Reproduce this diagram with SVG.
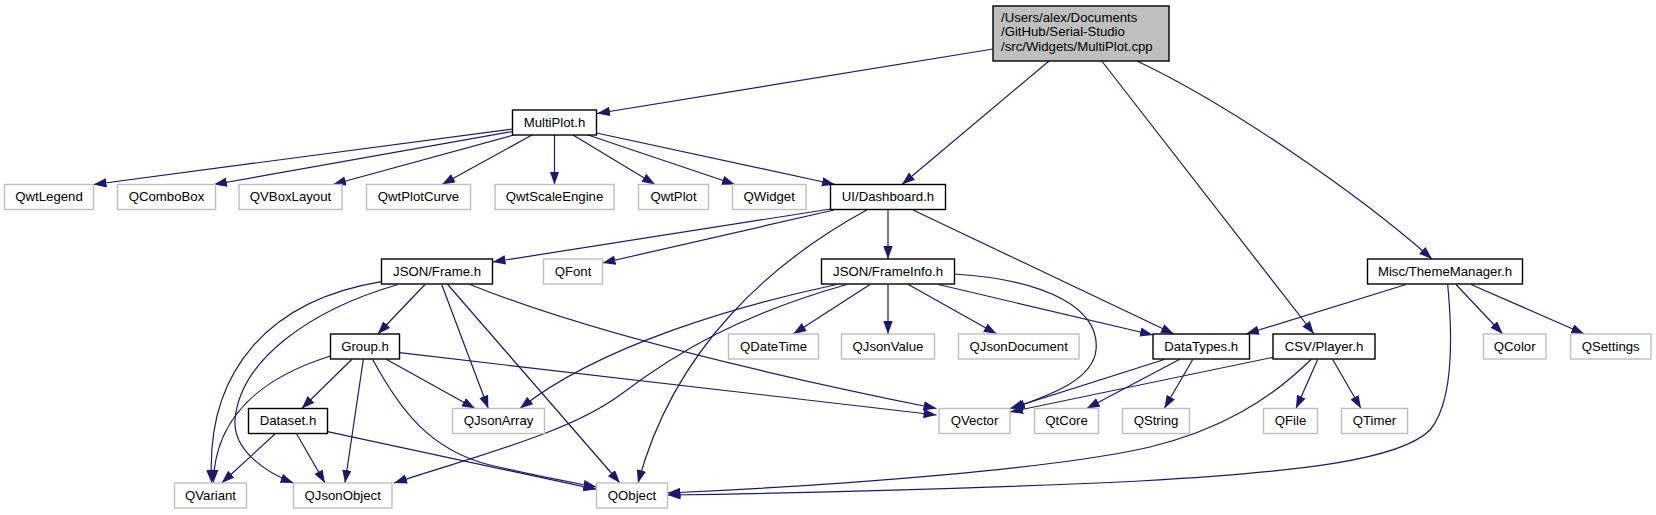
<svg xmlns="http://www.w3.org/2000/svg" width="1656" height="515" viewBox="0 0 1656 515">
<defs>
<marker id="ah" markerUnits="userSpaceOnUse" markerWidth="14" markerHeight="10" refX="13" refY="4.7" orient="auto">
<path d="M0,0 L13,4.7 L0,9.4 z" fill="#191970"/>
</marker>
<style>
.n rect{fill:#fff;stroke:#000;stroke-width:1.4}
.g rect{fill:#fff;stroke:#bfbfbf;stroke-width:1.4}
.r rect{fill:#bfbfbf;stroke:#000;stroke-width:1.4}
text{font-family:"Liberation Sans",Arial,Helvetica,sans-serif;font-size:13.2px;fill:#000;text-anchor:middle}
.r text{text-anchor:start}
#edges path{fill:none;stroke:#191970;stroke-width:1.2;marker-end:url(#ah)}
</style>
</defs>
<rect width="1656" height="515" fill="#fff"/>
<g id="edges">
<path d="M993,49 L597,113.5"/>
<path d="M1049,61 L902,184.5"/>
<path d="M1101.7,61 L1314,334"/>
<path d="M1137,61 C1230,105 1360,195 1432,259"/>
<path d="M512.5,129 L93.5,184.5"/>
<path d="M512.5,131.5 L214,184.5"/>
<path d="M514,135 L333,184.5"/>
<path d="M532,135 L442,184.5"/>
<path d="M554.5,135 L554.5,184.5"/>
<path d="M573,135 L655,184.5"/>
<path d="M588,135 L735,184.5"/>
<path d="M596.5,133 L835,184.5"/>
<path d="M830.5,209 L492.5,262"/>
<path d="M834,210 L602.5,263"/>
<path d="M888,210 L888,259"/>
<path d="M913,210 L1174,334"/>
<path d="M866.7,210 C775,260 675,345 638,483"/>
<path d="M381.5,281.7 C270,300 205,370 211.7,483"/>
<path d="M398,284.5 C310,310 240,360 235,420 C233,450 265,472 293.5,483"/>
<path d="M425,284.5 L377.7,334"/>
<path d="M441.7,284.5 L488.3,408.5"/>
<path d="M447.7,284.5 L620,483"/>
<path d="M470,284.5 Q620,345 936.5,408.5"/>
<path d="M351.7,359.5 L301.7,408.5"/>
<path d="M330.5,356 C270,375 215,410 213.3,483"/>
<path d="M363.3,359.5 L345,483"/>
<path d="M372.7,359.5 C400,410 430,450 490,465 C540,477 570,482 596.5,487"/>
<path d="M386.7,359.5 L475,408.5"/>
<path d="M399.5,352.7 L936.5,415"/>
<path d="M275,434 L221.7,483"/>
<path d="M296.7,434 L325,483"/>
<path d="M327.5,431.7 L596.5,489.3"/>
<path d="M836.7,284.5 C740,305 600,345 520,408.5"/>
<path d="M846.7,284.5 C740,315 680,350 620,395 C570,432 480,455 394,483"/>
<path d="M870,284.5 L793.3,334"/>
<path d="M888,284.5 L888,334"/>
<path d="M908.3,284.5 L996.7,334"/>
<path d="M938.3,284.5 L1153,335"/>
<path d="M954.5,274 C1050,280 1100,310 1096,350 C1093,380 1050,395 1012,408.5"/>
<path d="M1164.3,359.5 L1010,408.5"/>
<path d="M1179.3,359.5 L1086.7,408.5"/>
<path d="M1192.7,359.5 L1164.3,408.5"/>
<path d="M1273,357.3 L1010,412"/>
<path d="M1311,359.5 C1270,400 1220,430 1150,447 C1060,468 850,485 667.5,493"/>
<path d="M1317.7,359.5 L1296,408.5"/>
<path d="M1332.7,359.5 L1361,408.5"/>
<path d="M1406,284.5 L1246,334"/>
<path d="M1447.7,284.5 C1452,330 1455,400 1430,430 C1400,460 1300,472 1140,481 C950,490 800,493 667.5,495"/>
<path d="M1456,284.5 L1502.7,334"/>
<path d="M1471,284.5 L1584.3,334"/>
</g>
<g id="root" class="r"><rect x="993" y="6" width="176" height="55"/><text x="1001" y="21.7">/Users/alex/Documents</text><text x="1001" y="36.2">/GitHub/Serial-Studio</text><text x="1001" y="50.7">/src/Widgets/MultiPlot.cpp</text></g>
<g id="multiplot" class="n"><rect x="512.5" y="110" width="84" height="25"/><text x="554.5" y="126.8">MultiPlot.h</text></g>
<g id="qwtlegend" class="g"><rect x="4.5" y="184.5" width="89" height="25"/><text x="49" y="201.3">QwtLegend</text></g>
<g id="qcombobox" class="g"><rect x="117.5" y="184.5" width="98" height="25"/><text x="166.5" y="201.3">QComboBox</text></g>
<g id="qvboxlayout" class="g"><rect x="239" y="184.5" width="103" height="25"/><text x="290.5" y="201.3">QVBoxLayout</text></g>
<g id="qwtplotcurve" class="g"><rect x="366.5" y="184.5" width="104" height="25"/><text x="418.5" y="201.3">QwtPlotCurve</text></g>
<g id="qwtscaleengine" class="g"><rect x="495" y="184.5" width="119" height="25"/><text x="554.5" y="201.3">QwtScaleEngine</text></g>
<g id="qwtplot" class="g"><rect x="638.5" y="184.5" width="70" height="25"/><text x="673.5" y="201.3">QwtPlot</text></g>
<g id="qwidget" class="g"><rect x="732.5" y="184.5" width="73.5" height="25"/><text x="769.2" y="201.3">QWidget</text></g>
<g id="dashboard" class="n"><rect x="830.5" y="184.5" width="115" height="25"/><text x="888" y="201.3">UI/Dashboard.h</text></g>
<g id="jsonframe" class="n"><rect x="381.5" y="259" width="111" height="25"/><text x="437" y="275.8">JSON/Frame.h</text></g>
<g id="qfont" class="g"><rect x="543.5" y="259" width="59" height="25"/><text x="573" y="275.8">QFont</text></g>
<g id="frameinfo" class="n"><rect x="821.5" y="259" width="133" height="25"/><text x="888" y="275.8">JSON/FrameInfo.h</text></g>
<g id="thememanager" class="n"><rect x="1367.5" y="259" width="155" height="25"/><text x="1445" y="275.8">Misc/ThemeManager.h</text></g>
<g id="group" class="n"><rect x="330.5" y="334" width="69" height="25"/><text x="365" y="350.8">Group.h</text></g>
<g id="qdatetime" class="g"><rect x="728.5" y="334" width="90" height="25"/><text x="773.5" y="350.8">QDateTime</text></g>
<g id="qjsonvalue" class="g"><rect x="841.5" y="334" width="93" height="25"/><text x="888" y="350.8">QJsonValue</text></g>
<g id="qjsondocument" class="g"><rect x="958.5" y="334" width="120.5" height="25"/><text x="1018.7" y="350.8">QJsonDocument</text></g>
<g id="datatypes" class="n"><rect x="1153" y="334" width="96.5" height="25"/><text x="1201.2" y="350.8">DataTypes.h</text></g>
<g id="player" class="n"><rect x="1273" y="334" width="102" height="25"/><text x="1324" y="350.8">CSV/Player.h</text></g>
<g id="qcolor" class="g"><rect x="1483.5" y="334" width="62.5" height="25"/><text x="1514.7" y="350.8">QColor</text></g>
<g id="qsettings" class="g"><rect x="1570.5" y="334" width="80.5" height="25"/><text x="1610.7" y="350.8">QSettings</text></g>
<g id="dataset" class="n"><rect x="248.5" y="408.5" width="79" height="25"/><text x="288" y="425.3">Dataset.h</text></g>
<g id="qjsonarray" class="g"><rect x="452.5" y="408.5" width="92" height="25"/><text x="498.5" y="425.3">QJsonArray</text></g>
<g id="qvector" class="g"><rect x="939" y="408.5" width="71" height="25"/><text x="974.5" y="425.3">QVector</text></g>
<g id="qtcore" class="g"><rect x="1034.5" y="408.5" width="64" height="25"/><text x="1066.5" y="425.3">QtCore</text></g>
<g id="qstring" class="g"><rect x="1122.5" y="408.5" width="67" height="25"/><text x="1156" y="425.3">QString</text></g>
<g id="qfile" class="g"><rect x="1263.5" y="408.5" width="54" height="25"/><text x="1290.5" y="425.3">QFile</text></g>
<g id="qtimer" class="g"><rect x="1341.5" y="408.5" width="66" height="25"/><text x="1374.5" y="425.3">QTimer</text></g>
<g id="qvariant" class="g"><rect x="174.5" y="483" width="72" height="25"/><text x="210.5" y="499.8">QVariant</text></g>
<g id="qjsonobject" class="g"><rect x="293.5" y="483" width="98.5" height="25"/><text x="342.7" y="499.8">QJsonObject</text></g>
<g id="qobject" class="g"><rect x="596.5" y="483" width="71" height="25"/><text x="632" y="499.8">QObject</text></g>
</svg>
